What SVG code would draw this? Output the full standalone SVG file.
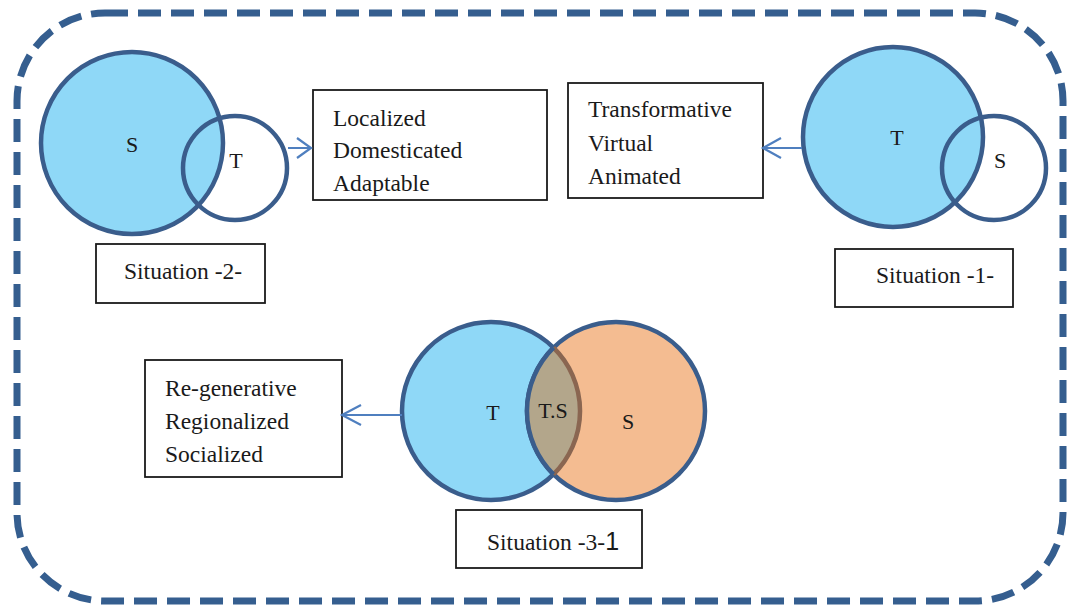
<svg xmlns="http://www.w3.org/2000/svg" width="1072" height="605" viewBox="0 0 1072 605">
  <defs>
    <style>
      .frame { fill: none; stroke: #355e8f; stroke-width: 7; stroke-dasharray: 23 10; }
      .circ { stroke: #3a5d8c; stroke-width: 4.5; }
      .blue { fill: #8fd8f7; }
      .orange { fill: #f4bc91; }
      .open { fill: none; }
      .box { fill: #ffffff; stroke: #1a1a1a; stroke-width: 1.8; }
      .txt { font-family: "Liberation Serif", "Times New Roman", serif; font-size: 23.5px; fill: #1a1a1a; }
      .lbl { font-family: "Liberation Serif", "Times New Roman", serif; font-size: 22px; fill: #1a1a1a; text-anchor: middle; }
      .conn { fill: none; stroke: #4f7fbf; stroke-width: 2.2; }
    </style>
  </defs>

  <rect class="frame" x="17" y="13" width="1046" height="588" rx="88" ry="88"/>

  <g id="situation2-venn">
    <circle class="circ blue" cx="132" cy="143" r="91"/>
    <circle class="circ open" cx="235" cy="168" r="52"/>
    <text class="lbl" x="132" y="152">S</text>
    <text class="lbl" x="236" y="168">T</text>
  </g>

  <g id="situation2-box">
    <rect class="box" x="313" y="90" width="234" height="110"/>
    <text class="txt" x="333" y="126">Localized</text>
    <text class="txt" x="333" y="158">Domesticated</text>
    <text class="txt" x="333" y="191">Adaptable</text>
  </g>

  <g id="situation2-label">
    <rect class="box" x="96" y="244" width="169" height="59"/>
    <text class="txt" x="124" y="279">Situation -2-</text>
  </g>

  <g id="situation1-venn">
    <circle class="circ blue" cx="893" cy="137" r="90"/>
    <circle class="circ open" cx="994" cy="168" r="52"/>
    <text class="lbl" x="897" y="145">T</text>
    <text class="lbl" x="1000" y="168">S</text>
  </g>

  <g id="situation1-box">
    <rect class="box" x="568" y="83" width="195" height="115"/>
    <text class="txt" x="588" y="117">Transformative</text>
    <text class="txt" x="588" y="151">Virtual</text>
    <text class="txt" x="588" y="184">Animated</text>
  </g>

  <g id="situation1-label">
    <rect class="box" x="835" y="249" width="178" height="58"/>
    <text class="txt" x="876" y="283">Situation -1-</text>
  </g>

  <g id="situation3-venn">
    <circle class="circ blue" cx="491" cy="411" r="89"/>
    <circle class="circ orange" cx="616" cy="411" r="89"/>
    <path d="M 553.5 347.6 A 89 89 0 0 1 553.5 474.4 A 89 89 0 0 1 553.5 347.6 Z" fill="#b3a68b"/>
    <path d="M 553.5 347.6 A 89 89 0 0 1 553.5 474.4" fill="none" stroke="#8a6651" stroke-width="4.5"/>
    <path d="M 553.5 474.4 A 89 89 0 0 1 553.5 347.6" fill="none" stroke="#3a5d8c" stroke-width="4.5"/>
    <text class="lbl" x="493" y="420">T</text>
    <text class="lbl" x="553" y="418">T.S</text>
    <text class="lbl" x="628" y="429">S</text>
  </g>

  <g id="situation3-box">
    <rect class="box" x="145" y="360" width="197" height="117"/>
    <text class="txt" x="165" y="396">Re-generative</text>
    <text class="txt" x="165" y="429">Regionalized</text>
    <text class="txt" x="165" y="462">Socialized</text>
  </g>

  <g id="situation3-label">
    <rect class="box" x="456" y="510" width="186" height="58"/>
    <text class="txt" x="487" y="550">Situation -3-<tspan font-family="'Liberation Sans', Arial, sans-serif" font-size="25px">1</tspan></text>
  </g>

  <g id="connectors">
    <path class="conn" d="M 288 148 L 311 148 M 297 138 L 311 148 L 297 158"/>
    <path class="conn" d="M 802 148 L 763 148 M 781 138 L 763 148 L 781 158"/>
    <path class="conn" d="M 402 415 L 342 415 M 361 405 L 342 415 L 361 425"/>
  </g>
</svg>
